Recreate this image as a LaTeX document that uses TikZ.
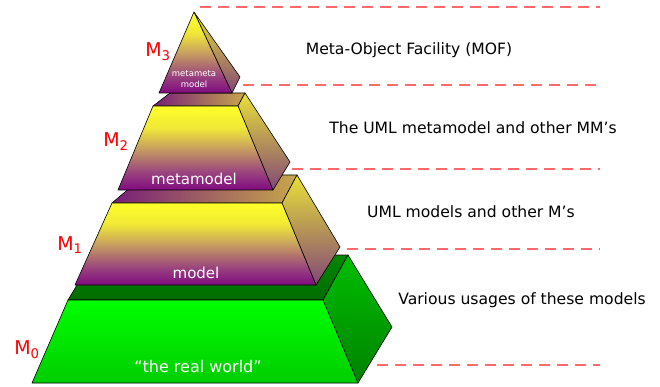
\documentclass[tikz,border=0pt]{standalone}
\usepackage{fontspec}
\setmainfont{DejaVu Sans}
\definecolor{yel}{RGB}{255,255,40}
\definecolor{yelmid}{RGB}{240,232,55}
\definecolor{pur}{RGB}{128,10,128}
\definecolor{mauvea}{RGB}{155,70,125}
\definecolor{mauveb}{RGB}{200,160,95}
\definecolor{ryel}{RGB}{232,225,55}
\definecolor{rpur}{RGB}{130,70,120}
\definecolor{tpur}{RGB}{120,30,120}
\definecolor{dashred}{RGB}{255,105,105}
\definecolor{gfront}{RGB}{0,255,0}
\definecolor{gfrontb}{RGB}{0,205,0}
\definecolor{gright}{RGB}{0,190,0}
\definecolor{grightb}{RGB}{0,130,0}
\definecolor{gtop}{RGB}{0,135,0}
\pgfdeclareverticalshading{frontsh}{100bp}{color(0bp)=(pur); color(25bp)=(pur); color(36bp)=(mauvea); color(50bp)=(mauveb); color(62bp)=(yelmid); color(75bp)=(yel); color(100bp)=(yel)}
\begin{document}
\begin{tikzpicture}[x=1pt,y=-1pt,
  edge/.style={draw=black, line width=0.6pt, line join=round},
  dashline/.style={draw=dashred, line width=1.5pt, dash pattern=on 11pt off 7pt},
  mlabel/.style={text=red, font=\fontsize{19}{19}\selectfont, inner sep=0pt},
  desc/.style={text=black, font=\fontsize{15.6}{17}\selectfont, inner sep=0pt},
  facetext/.style={text=white, font=\fontsize{15}{16}\selectfont, inner sep=0pt},
  frontface/.style={edge, shading=frontsh},
  rightface/.style={edge, top color=ryel, bottom color=rpur},
  topface/.style={edge, left color=tpur, right color=ryel!70!tpur}]
\useasboundingbox (0,0) rectangle (660,387);
\fill[white] (0,0) rectangle (660,387);

% ---------- M0 (green) ----------
\shadedraw[edge, top color=gtop, bottom color=gtop!80!black] (68,300) -- (323,300) -- (348,255) -- (95,255) -- cycle;
\shadedraw[edge, top color=gright, bottom color=grightb] (323,300) -- (348,255) -- (392,327) -- (358,383) -- cycle;
\shadedraw[edge, top color=gfront, bottom color=gfrontb] (68,300) -- (323,300) -- (358,383) -- (32,383) -- cycle;

% ---------- M1 ----------
\shadedraw[topface] (112,203) -- (282,203) -- (297,175) -- (145,175) -- cycle;
\shadedraw[rightface] (282,203) -- (297,175) -- (340,247) -- (316,285) -- cycle;
\shadedraw[frontface] (112,203) -- (282,203) -- (316,285) -- (75,285) -- cycle;

% ---------- M2 ----------
\shadedraw[topface] (153,106) -- (238,106) -- (245,93) -- (170,93) -- cycle;
\shadedraw[rightface] (238,106) -- (245,93) -- (290,162) -- (273,190) -- cycle;
\shadedraw[frontface] (153,106) -- (238,106) -- (273,190) -- (118,190) -- cycle;

% ---------- M3 ----------
\shadedraw[rightface] (194,12) -- (240,77) -- (232,93) -- cycle;
\shadedraw[frontface] (194,12) -- (232,93) -- (159,93) -- cycle;

% ---------- face texts ----------
\node[facetext, font=\fontsize{8.5}{9}\selectfont, align=center] (t3) at (194,79) {metameta\\[2pt]model};
\node[facetext] (t2) at (194,179) {metamodel};
\node[facetext] (t1) at (196,273) {model};
\node[facetext, font=\fontsize{16}{17}\selectfont] (t0) at (198,367) {“the real world"};

% ---------- level labels ----------
\node[mlabel] (m3) at (158,52) {M\textsubscript{3}};
\node[mlabel] (m2) at (116,142) {M\textsubscript{2}};
\node[mlabel] (m1) at (70,245) {M\textsubscript{1}};
\node[mlabel] (m0) at (27,350) {M\textsubscript{0}};

% ---------- descriptions ----------
\node[desc] (d3) at (409,50) {Meta-Object Facility (MOF)};
\node[desc] (d2) at (473,128) {The UML metamodel and other MM’s};
\node[desc] (d1) at (471,212) {UML models and other M’s};
\node[desc] (d0) at (522,300) {Various usages of these models};

% ---------- dashed separators ----------
\coordinate (l4a) at (200,7);   \coordinate (l4b) at (600,7);
\coordinate (l3a) at (243,85);  \coordinate (l3b) at (596,85);
\coordinate (l2a) at (292,169); \coordinate (l2b) at (600,169);
\coordinate (l1a) at (347,249); \coordinate (l1b) at (600,249);
\coordinate (l0a) at (377,365); \coordinate (l0b) at (600,365);
\draw[dashline] (l4a) -- (l4b);
\draw[dashline] (l3a) -- (l3b);
\draw[dashline] (l2a) -- (l2b);
\draw[dashline] (l1a) -- (l1b);
\draw[dashline] (l0a) -- (l0b);
\end{tikzpicture}
\end{document}
